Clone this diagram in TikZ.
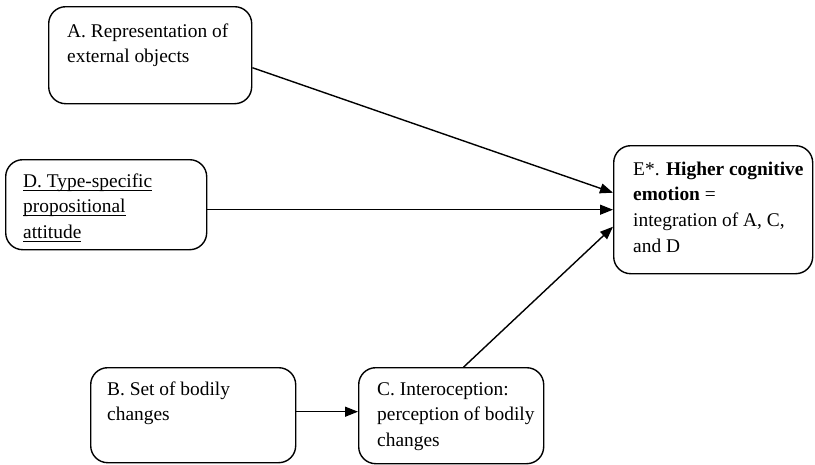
\documentclass[tikz,border=0pt]{standalone}
\usepackage{fontspec}
\setmainfont{Liberation Serif}
\usetikzlibrary{arrows.meta}
\newcommand\myul[1]{\leavevmode\setbox0\hbox{#1}\rlap{\rule[-3.5pt]{\wd0}{0.9pt}}\box0}
\tikzset{
  box/.style={draw, line width=1.4pt, rounded corners=17pt, anchor=north west, inner sep=0pt},
  lbl/.style={anchor=base west, inner sep=0pt, font=\fontsize{19.4}{25.7}\selectfont},
  arr/.style={line width=1.4pt, -{Triangle[length=13pt,width=10pt]}}
}
\begin{document}
\begin{tikzpicture}[x=1pt,y=-1pt]
\useasboundingbox (0,0) rectangle (815,464);
\node[box, minimum width=203pt, minimum height=97pt] (A) at (48,6) {};
\node[box, minimum width=201pt, minimum height=90pt] (D) at (5,159) {};
\node[box, minimum width=199pt, minimum height=128pt] (E) at (613,145) {};
\node[box, minimum width=205pt, minimum height=95pt] (B) at (90,367) {};
\node[box, minimum width=185pt, minimum height=96pt] (C) at (358,367) {};

\node[lbl] (At) at (67,37) {\parbox[t]{190pt}{A. Representation of\\external objects}};
\node[lbl] (Dt) at (23,187) {\parbox[t]{190pt}{\myul{D. Type-specific}\\\myul{propositional}\\\myul{attitude}}};
\node[lbl] (Et) at (633,175) {\parbox[t]{190pt}{E*. \textbf{Higher cognitive}\\\textbf{emotion} =\\integration of A, C,\\and D}};
\node[lbl] (Bt) at (107,395) {\parbox[t]{190pt}{B. Set of bodily\\changes}};
\node[lbl] (Ct) at (377,395) {\parbox[t]{190pt}{C. Interoception:\\perception of bodily\\changes}};

\draw[arr] ([yshift=-12.5pt]A.east) -- ([yshift=17pt]E.west);
\draw[arr] (D.east |- E.west) -- (E.west);
\draw[arr] ([xshift=12.5pt]C.north) -- ([yshift=-17pt]E.west);
\draw[arr] ([yshift=3.5pt]B.east) -- ([yshift=3.5pt]B.east -| C.west);
\end{tikzpicture}
\end{document}
